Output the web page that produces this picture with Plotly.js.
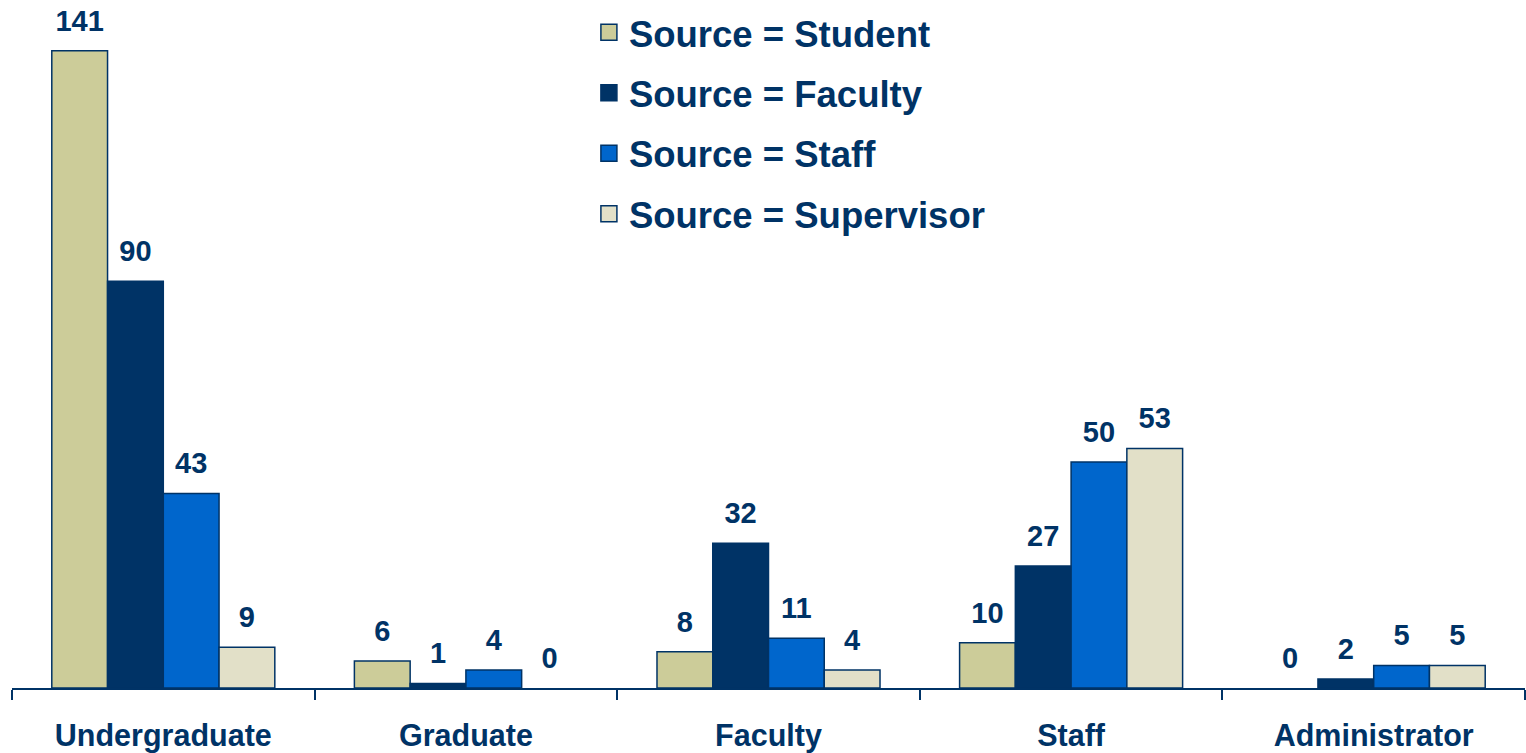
<!DOCTYPE html>
<html>
<head>
<meta charset="utf-8">
<script src="https://cdn.plot.ly/plotly-3.0.1.min.js"></script>
<style>html,body{margin:0;padding:0;background:#fff;}#chart{width:1526px;height:753px;}</style>
</head>
<body>
<div id="chart"></div>
<script>
const categories = ["Undergraduate", "Graduate", "Faculty", "Staff", "Administrator"];
const seriesNames = ["Source = Student", "Source = Faculty", "Source = Staff", "Source = Supervisor"];
const student = [141, 6, 8, 10, 0];
const faculty = [90, 1, 32, 27, 2];
const staff = [43, 4, 11, 50, 5];
const supervisor = [9, 0, 4, 53, 5];
const seriesValues = [student, faculty, staff, supervisor];
const seriesColors = ["#CCCC99", "#003366", "#0066CC", "#E2E0C8"];

const NAVY = "#003366";
const FONT = "Liberation Sans, Arial, Helvetica, sans-serif";

const traces = [];
seriesValues.forEach((vals, i) => {
  traces.push({
    type: "bar",
    name: seriesNames[i],
    x: categories,
    y: vals,
    showlegend: false,
    marker: {color: seriesColors[i], line: {color: NAVY, width: vals.map(v => v === 0 ? 0 : 1.5)}},
    hoverinfo: "skip"
  });
});
seriesValues.forEach((vals, i) => {
  traces.push({
    type: "scatter",
    mode: "markers+text",
    x: categories,
    y: vals,
    text: vals.map(String),
    textposition: "top center",
    textfont: {family: FONT, size: 29, color: NAVY, weight: "bold"},
    marker: {size: 19, opacity: 0, color: seriesColors[i]},
    showlegend: false,
    cliponaxis: false,
    hoverinfo: "skip"
  });
});
// legend entries (on a hidden overlay axis pair so they don't affect grouping)
seriesNames.forEach((name, i) => {
  traces.push({
    type: "scatter",
    mode: "markers",
    name: name,
    x: [null],
    y: [null],
    xaxis: "x2",
    yaxis: "y2",
    legendgroup: "g" + i,
    marker: {symbol: "square", size: 20, color: seriesColors[i], line: {color: NAVY, width: 1.5}},
    hoverinfo: "skip"
  });
});

const layout = {
  width: 1526,
  height: 753,
  margin: {l: 12, r: 1, t: 0, b: 65},
  paper_bgcolor: "#ffffff",
  plot_bgcolor: "#ffffff",
  barmode: "group",
  bargap: 0.263,
  bargroupgap: 0,
  scattermode: "group",
  scattergap: 0.263,
  showlegend: true,
  legend: {
    x: 0.3813, y: 0.997, xanchor: "left", yanchor: "top",
    font: {family: FONT, size: 36.5, color: NAVY, weight: "bold"},
    tracegroupgap: 10,
    itemwidth: 30,
    bgcolor: "rgba(0,0,0,0)"
  },
  xaxis: {
    type: "category",
    range: [-0.5, 4.5],
    showline: true, linecolor: NAVY, linewidth: 2,
    ticks: "outside", tickson: "boundaries", ticklen: 10, tickwidth: 2, tickcolor: NAVY,
    tickfont: {family: FONT, size: 30.5, color: NAVY, weight: "bold"},
    ticklabelstandoff: 19,
    showgrid: false, zeroline: false, fixedrange: true
  },
  yaxis: {
    range: [0, 152.2],
    visible: false,
    showgrid: false, zeroline: false, fixedrange: true
  },
  xaxis2: {overlaying: "x", visible: false, range: [0, 1], fixedrange: true},
  yaxis2: {overlaying: "y", visible: false, range: [0, 1], fixedrange: true}
};

Plotly.newPlot("chart", traces, layout, {displayModeBar: false, staticPlot: true});
</script>
</body>
</html>
